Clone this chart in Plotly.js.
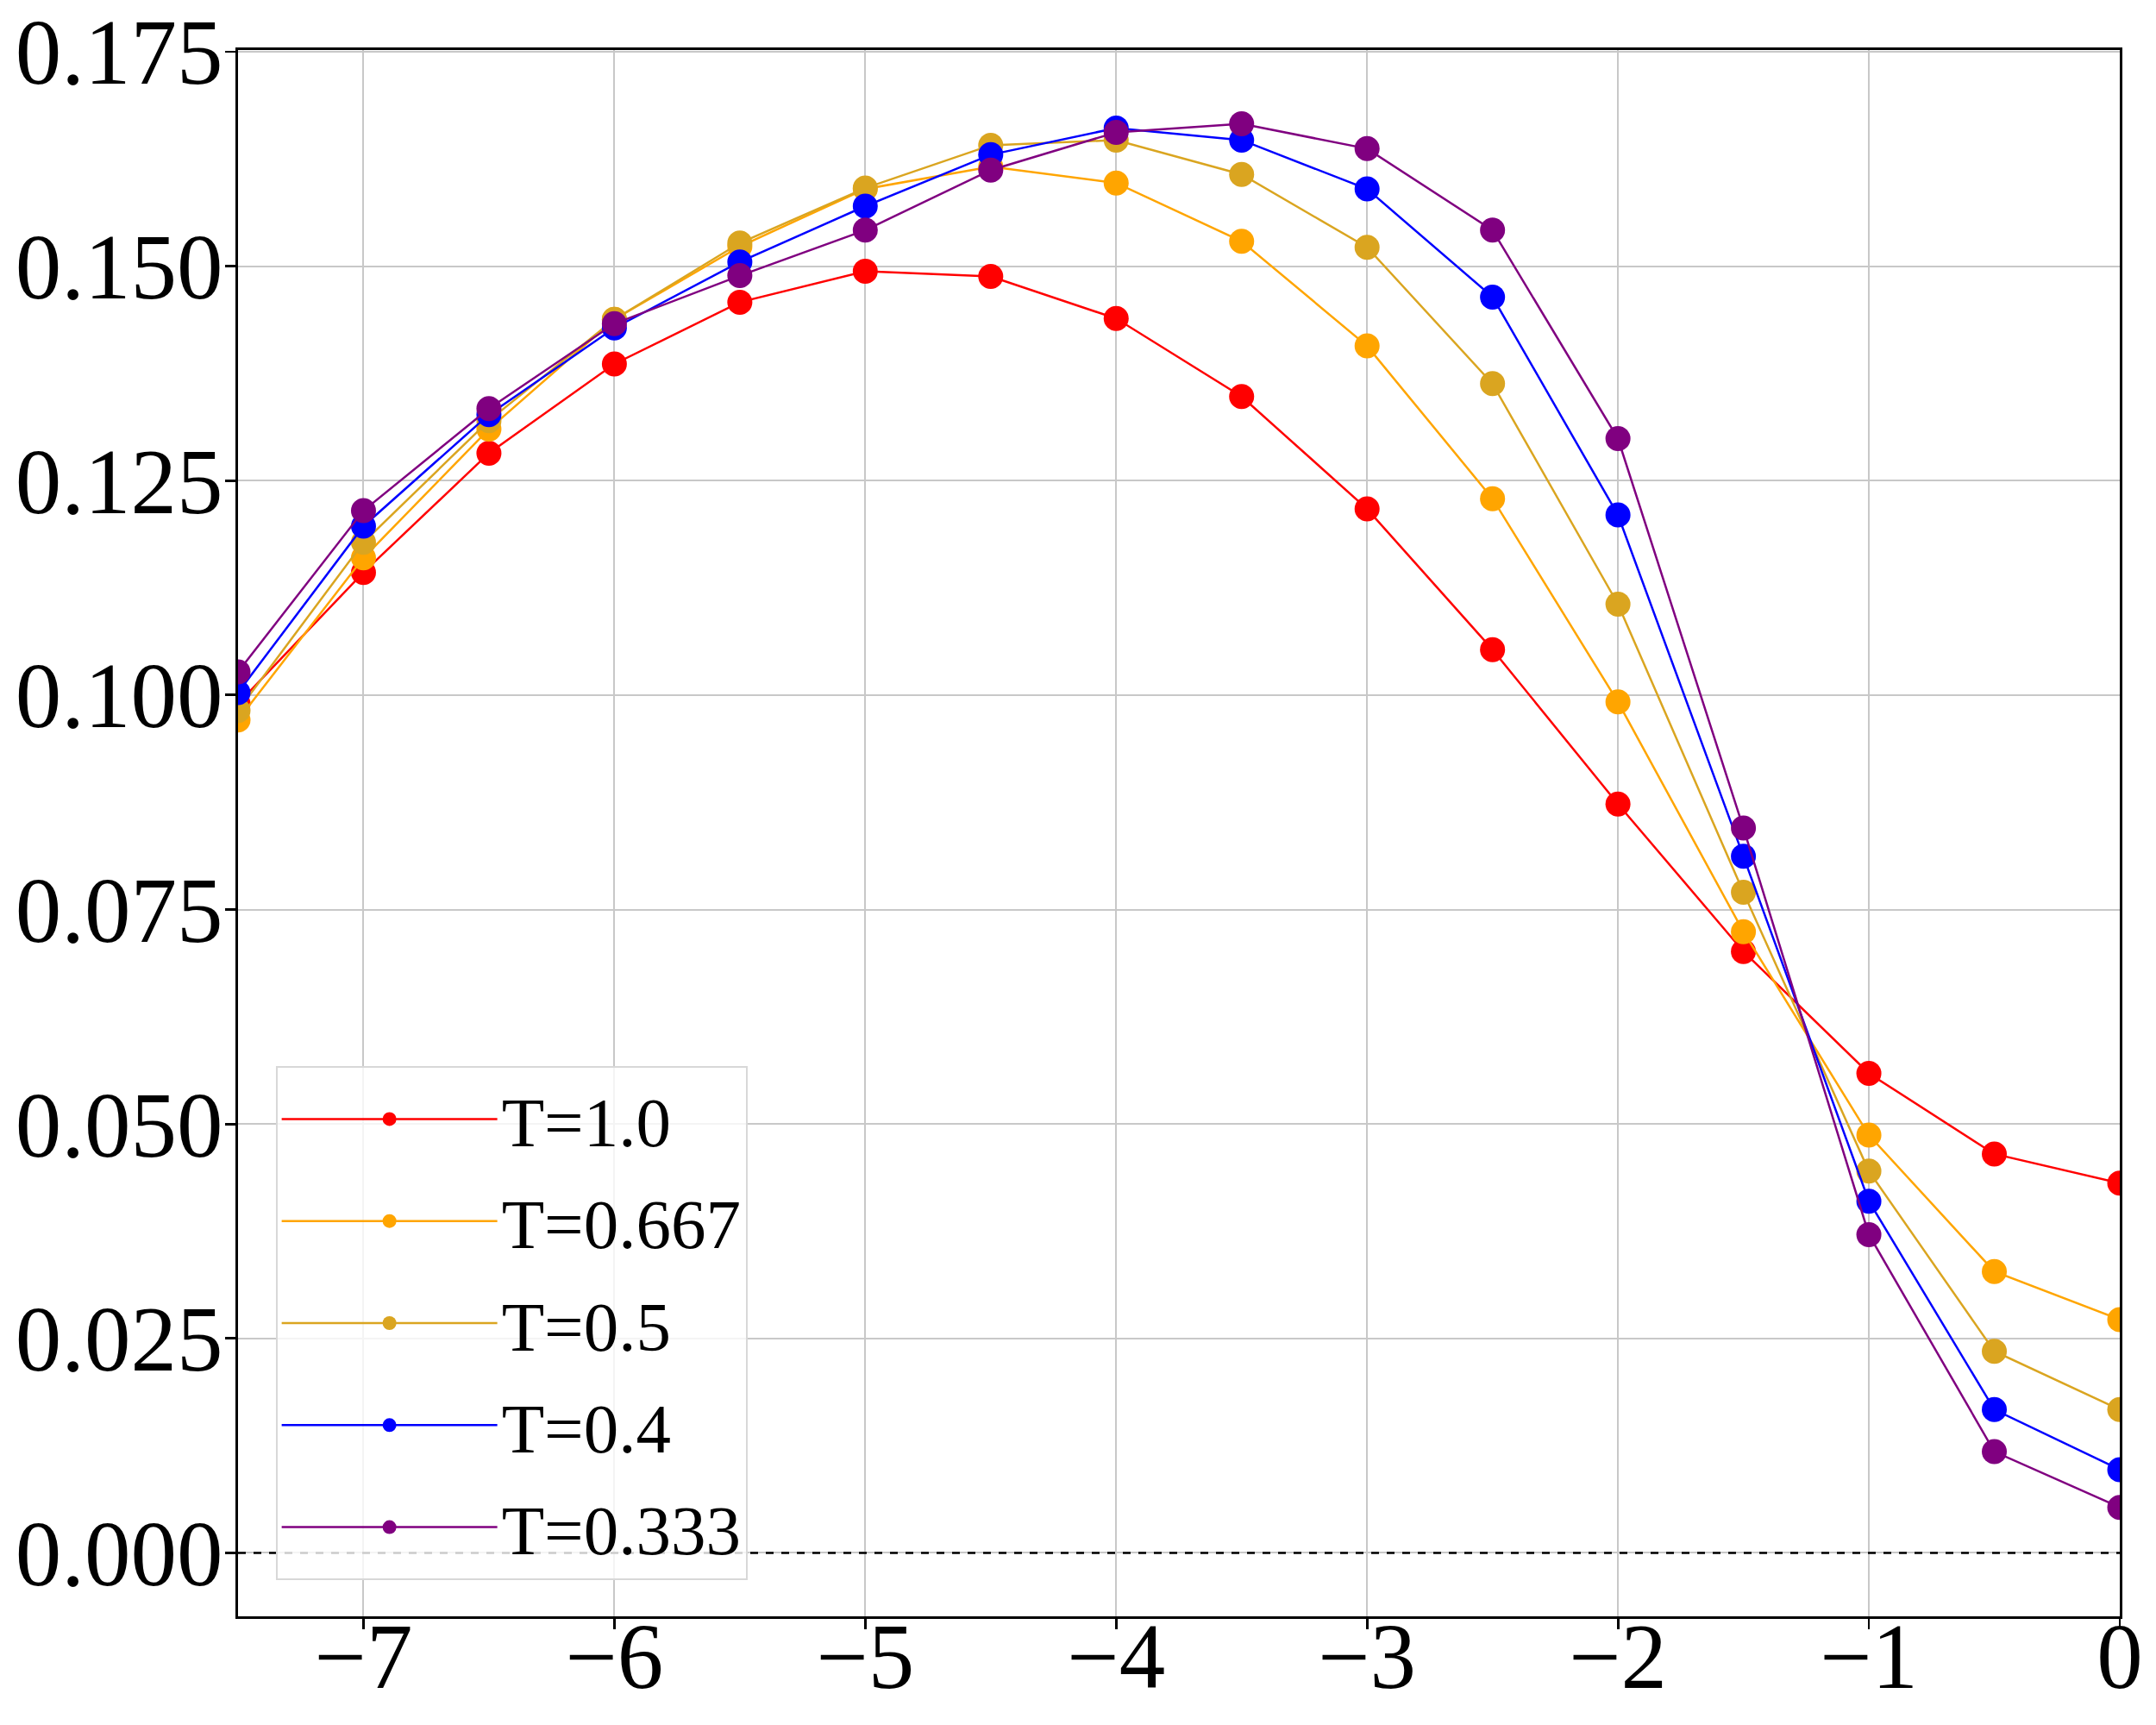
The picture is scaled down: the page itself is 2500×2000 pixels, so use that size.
<!DOCTYPE html>
<html>
<head>
<meta charset="utf-8">
<script src="https://cdn.plot.ly/plotly-3.0.1.min.js"></script>
<style>html,body{margin:0;padding:0;background:#fff;}#chart{width:2500px;height:2000px;}</style>
</head>
<body>
<div id="chart"></div>
<script>
// x positions
const xVals = [-7.5, -7, -6.5, -6, -5.5, -5, -4.5, -4, -3.5, -3, -2.5, -2, -1.5, -1, -0.5, 0];
// series labels and colours
const seriesNames = ["T=1.0", "T=0.667", "T=0.5", "T=0.4", "T=0.333"];
const seriesColors = ["red", "orange", "goldenrod", "blue", "purple"];
// values
const yT1000 = [0.0990, 0.1143, 0.1282, 0.1386, 0.1458, 0.1494, 0.1488, 0.1439, 0.1348, 0.1217, 0.1053, 0.0873, 0.0701, 0.0559, 0.0465, 0.0431];
const yT0667 = [0.0971, 0.1160, 0.1310, 0.1438, 0.1523, 0.1590, 0.1616, 0.1597, 0.1529, 0.1407, 0.1229, 0.0992, 0.0724, 0.0487, 0.0328, 0.0272];
const yT0500 = [0.0982, 0.1178, 0.1320, 0.1438, 0.1527, 0.1591, 0.1641, 0.1647, 0.1607, 0.1522, 0.1363, 0.1106, 0.0770, 0.0445, 0.0235, 0.0167];
const yT0400 = [0.1003, 0.1197, 0.1327, 0.1428, 0.1505, 0.1570, 0.1630, 0.1661, 0.1647, 0.1590, 0.1464, 0.1210, 0.0812, 0.0410, 0.0167, 0.0097];
const yT0333 = [0.1027, 0.1215, 0.1334, 0.1433, 0.1489, 0.1542, 0.1612, 0.1656, 0.1666, 0.1637, 0.1542, 0.1299, 0.0845, 0.0371, 0.0118, 0.0053];
const seriesValues = [yT1000, yT0667, yT0500, yT0400, yT0333];
// tick labels
const xTickVals = [-7, -6, -5, -4, -3, -2, -1, 0];
const yTickVals = [0, 0.025, 0.05, 0.075, 0.1, 0.125, 0.15, 0.175];

const FONT = "Liberation Serif, Times New Roman, serif";

const traces = seriesNames.map((name, i) => ({
  type: "scatter",
  mode: "lines+markers",
  name: name,
  x: xVals,
  y: seriesValues[i],
  legendgroup: "g" + i,
  line: { color: seriesColors[i], width: 2.5 },
  marker: { color: seriesColors[i], size: 29 }
}));

const layout = {
  width: 2500,
  height: 2000,
  margin: { l: 276, r: 42, t: 58, b: 126 },
  paper_bgcolor: "#ffffff",
  plot_bgcolor: "#ffffff",
  font: { family: FONT, color: "#000" },
  showlegend: true,
  legend: {
    x: 0.02, y: 0.023, xanchor: "left", yanchor: "bottom",
    bgcolor: "rgba(255,255,255,0.8)",
    bordercolor: "#d8d8d8", borderwidth: 2,
    font: { family: FONT, size: 81, color: "#000" },
    itemsizing: "trace",
    itemwidth: 250,
    tracegroupgap: 10,
    traceorder: "grouped"
  },
  xaxis: {
    range: [-7.5, 0],
    tickmode: "array", tickvals: xTickVals,
    showgrid: true, gridcolor: "#c8c8c8", gridwidth: 2,
    zeroline: false,
    showline: true, linecolor: "#000", linewidth: 3, mirror: true,
    ticks: "outside", ticklen: 12, tickwidth: 2.8, tickcolor: "#000",
    ticklabelstandoff: -60,
    ticklabeloverflow: "allow",
    tickfont: { family: FONT, size: 107, color: "#000" }
  },
  yaxis: {
    range: [-0.0074, 0.1752],
    tickmode: "array", tickvals: yTickVals,
    tickformat: ".3f",
    showgrid: true, gridcolor: "#c8c8c8", gridwidth: 2,
    zeroline: false,
    showline: true, linecolor: "#000", linewidth: 3, mirror: true,
    ticks: "outside", ticklen: 12, tickwidth: 2.8, tickcolor: "#000",
    ticklabelstandoff: -19,
    ticklabeloverflow: "allow",
    tickfont: { family: FONT, size: 107, color: "#000" }
  },
  shapes: [{
    type: "line", xref: "paper", x0: 0, x1: 1, yref: "y", y0: 0, y1: 0,
    line: { color: "#000", width: 2.5, dash: "dash" }, layer: "above"
  }]
};

Plotly.newPlot("chart", traces, layout, { displayModeBar: false, staticPlot: true });
</script>
</body>
</html>
